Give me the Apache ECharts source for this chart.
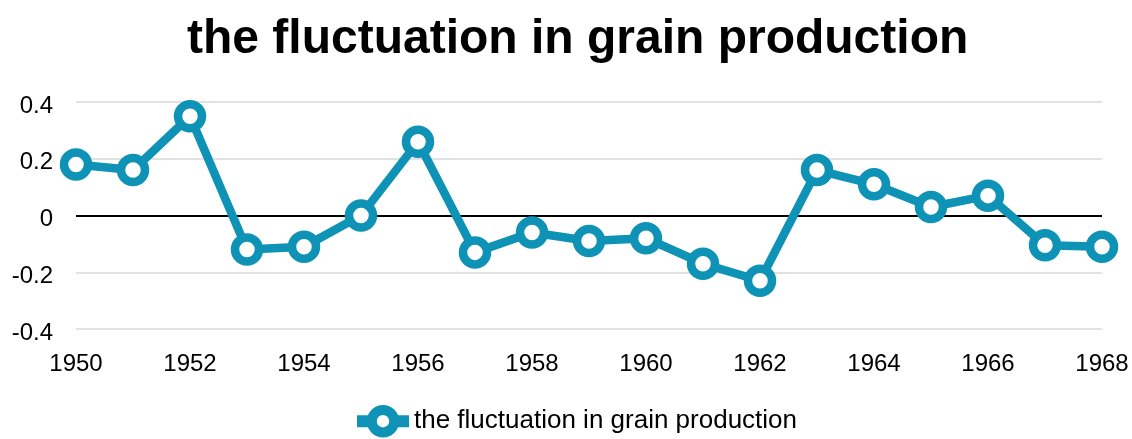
<!DOCTYPE html>
<html><head><meta charset="utf-8">
<script src="https://cdn.jsdelivr.net/npm/echarts@6/dist/echarts.min.js"></script>
<style>html,body{margin:0;padding:0;background:#fff}#c{width:1132px;height:439px}</style>
</head><body><div id="c"></div>
<script>
const categories = ['1950','1951','1952','1953','1954','1955','1956','1957','1958','1959','1960','1961','1962','1963','1964','1965','1966','1967','1968'];
const values = [0.18,0.16,0.35,-0.12,-0.11,0.0,0.26,-0.13,-0.06,-0.09,-0.08,-0.17,-0.23,0.16,0.11,0.03,0.07,-0.105,-0.11];
const seriesName = 'the fluctuation in grain production';
const titleText = 'the fluctuation in grain production';
const chart = echarts.init(document.getElementById('c'));
chart.setOption({
  animation:false,
  title:{text:titleText,left:182,top:11,textStyle:{fontFamily:'Liberation Sans',fontWeight:'bold',fontSize:48,color:'#000'}},
  legend:{top:400,left:346,itemWidth:52,itemHeight:28,
    lineStyle:{width:12,color:'#0e93b6'},
    itemStyle:{color:'#fff',borderColor:'#0e93b6',borderWidth:10},
    textStyle:{fontFamily:'Liberation Sans',fontSize:26,color:'#000'},data:[seriesName]},
  grid:{left:76,right:30,top:102,bottom:110,containLabel:false},
  xAxis:{type:'category',data:categories,boundaryGap:false,
    axisLine:{show:false},axisTick:{show:false},
    axisLabel:{interval:1,fontFamily:'Liberation Sans',fontSize:24,color:'#000',margin:23},
    splitLine:{show:false}},
  yAxis:{type:'value',min:-0.4,max:0.4,interval:0.2,
    axisLine:{show:false},axisTick:{show:false},
    axisLabel:{fontFamily:'Liberation Sans',fontSize:24,color:'#000',margin:23,verticalAlign:'top',lineHeight:8,formatter:v=>{const r=Math.round(v*10)/10;return r===0?'0':String(r);}},
    splitLine:{lineStyle:{color:'#d8d8d8',width:1.5}}},
  series:[{name:seriesName,type:'line',data:values,
    lineStyle:{color:'#0e93b6',width:8.5},
    itemStyle:{color:'#fff',borderColor:'#0e93b6',borderWidth:8.5},
    symbol:'circle',symbolSize:24,showSymbol:true,
    markLine:{silent:true,symbol:'none',label:{show:false},lineStyle:{color:'#000',width:2,type:'solid'},data:[{yAxis:0}],z:1},
    z:3}]
});
</script></body></html>
